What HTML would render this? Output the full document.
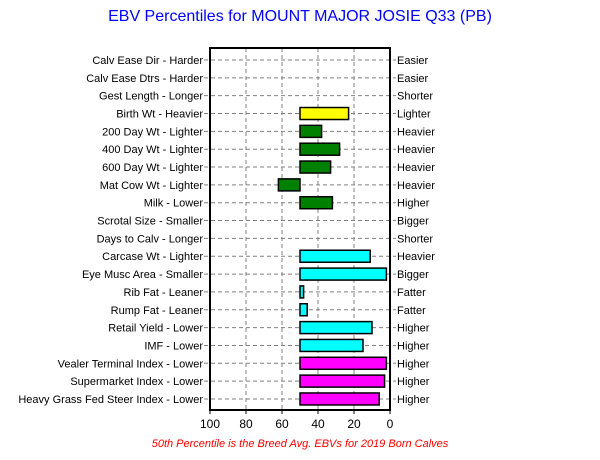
<!DOCTYPE html>
<html><head><meta charset="utf-8"><style>
body{margin:0;background:#fff;}
svg{font-family:"Liberation Sans",sans-serif;}
</style></head><body>
<svg id="chart" width="600" height="455" xmlns="http://www.w3.org/2000/svg">
<text x="300" y="21" text-anchor="middle" font-size="16" fill="#0000ff">EBV Percentiles for MOUNT MAJOR JOSIE Q33 (PB)</text>
<text x="300" y="447" text-anchor="middle" font-size="11" font-style="italic" fill="#ff0000">50th Percentile is the Breed Avg. EBVs for 2019 Born Calves</text>
<g id="grid"></g><g id="bars"></g><g id="labels"></g>
<rect x="210" y="48" width="180" height="362" fill="none" stroke="#000" stroke-width="2"/>
</svg>
<script>
const categories=["Calv Ease Dir - Harder","Calv Ease Dtrs - Harder","Gest Length - Longer","Birth Wt - Heavier","200 Day Wt - Lighter","400 Day Wt - Lighter","600 Day Wt - Lighter","Mat Cow Wt - Lighter","Milk - Lower","Scrotal Size - Smaller","Days to Calv - Longer","Carcase Wt - Lighter","Eye Musc Area - Smaller","Rib Fat - Leaner","Rump Fat - Leaner","Retail Yield - Lower","IMF - Lower","Vealer Terminal Index - Lower","Supermarket Index - Lower","Heavy Grass Fed Steer Index - Lower"];
const rightLabels=["Easier","Easier","Shorter","Lighter","Heavier","Heavier","Heavier","Heavier","Higher","Bigger","Shorter","Heavier","Bigger","Fatter","Fatter","Higher","Higher","Higher","Higher","Higher"];
const values=[null,null,null,23,38,28,33,62,32,null,null,11,2,48,46,10,15,2,3,6];
const colors=["","","","#ffff00","#008000","#008000","#008000","#008000","#008000","","","#00ffff","#00ffff","#00ffff","#00ffff","#00ffff","#00ffff","#ff00ff","#ff00ff","#ff00ff"];
const ticks=[100,80,60,40,20,0];
const NS="http://www.w3.org/2000/svg";
const x=v=>390-v*1.8;
const y=i=>60+i*17.84;
const g=document.getElementById('grid'),b=document.getElementById('bars'),l=document.getElementById('labels');
function mk(tag,at,parent){const e=document.createElementNS(NS,tag);for(const k in at)e.setAttribute(k,at[k]);parent.appendChild(e);return e;}
ticks.forEach(t=>{
  if(t!==100&&t!==0){const gl=mk('line',{x1:x(t),x2:x(t),y1:48,y2:410,stroke:'#808080','stroke-dasharray':'4,3'},g);
  
  }
  const tk=mk('line',{x1:x(t),x2:x(t),y1:410,y2:414,stroke:'#000'},g);
  
  
  const tx=mk('text',{x:x(t),y:428,'text-anchor':'middle','font-size':12,fill:'#000'},l);
  tx.textContent=t;
  
  
});
categories.forEach((c,i)=>{
  const gl=mk('line',{x1:204,x2:396,y1:y(i),y2:y(i),stroke:'#808080','stroke-dasharray':'4,3'},g);
  
  
  const t=mk('text',{x:203,y:y(i)+4,'text-anchor':'end','font-size':11,fill:'#000'},l);
  t.textContent=c;
  
  
  const r=mk('text',{x:397,y:y(i)+4,'font-size':11,fill:'#000'},l);
  r.textContent=rightLabels[i];
  
  
  const v=values[i];
  if(v!==null){
    const x0=Math.min(x(50),x(v)),w=Math.abs(x(v)-x(50));
    const bar=mk('rect',{x:x0,y:y(i)-6,width:Math.max(w,2),height:12,fill:colors[i],stroke:'#000','stroke-width':1.5},b);
    
    
  }
});
</script>
</body></html>
